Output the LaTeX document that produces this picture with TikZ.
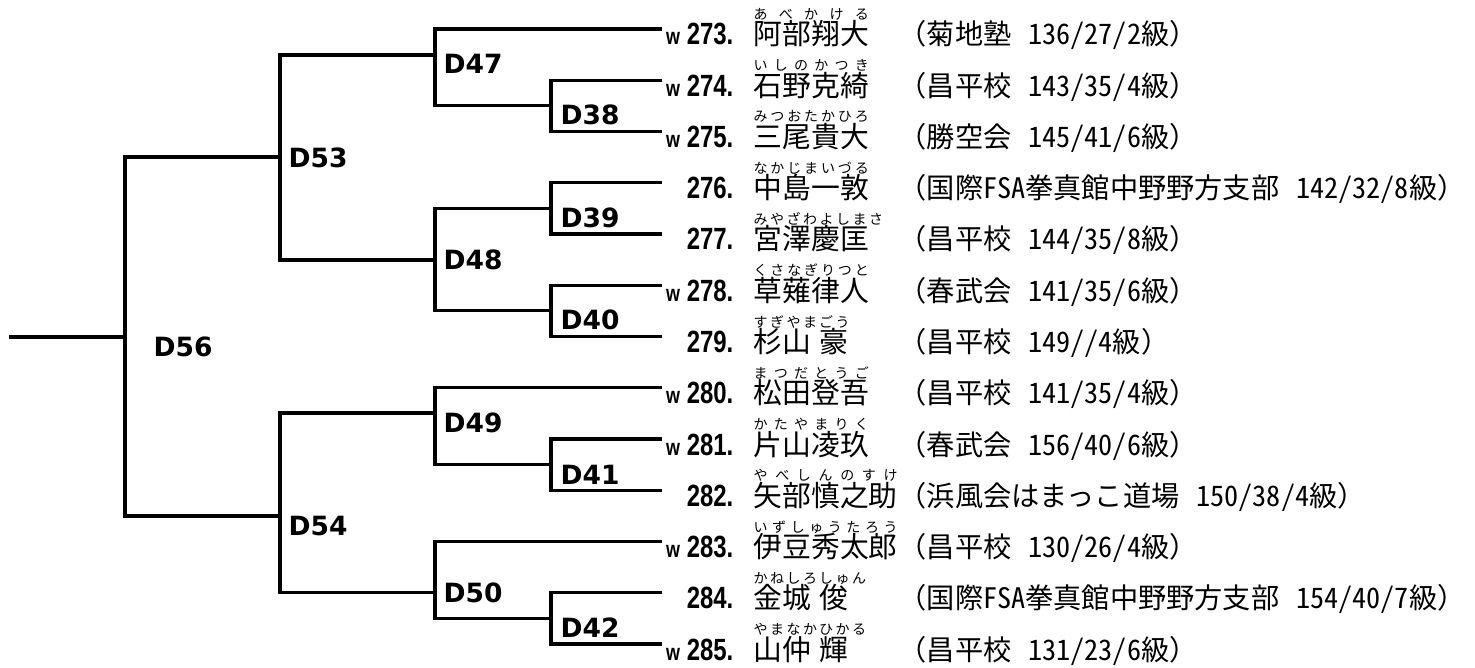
\documentclass[tikz,border=0pt]{standalone}
\usepackage{fontspec}
\newfontfamily\jpfont{Noto Sans CJK JP}
\newfontfamily\hwfont[RawFeature=+hwid]{Noto Sans CJK JP}
\newfontfamily\numfont[FakeStretch=0.78]{Liberation Sans}
\newfontfamily\rndfont{DejaVu Sans}
\newsavebox\furibox
\newcommand\furi[2]{\sbox\furibox{#1}\rlap{\raisebox{25.5pt}{\makebox[\wd\furibox][s]{\fontsize{14}{14}\selectfont\spaceskip=2.5pt plus 1fil\relax#2}}}\usebox\furibox}
\newcommand\hw[1]{{\hwfont#1}}
\begin{document}
\begin{tikzpicture}[x=1pt,y=-1pt,line width=3.2pt,
 rnd/.style={font=\rndfont\bfseries\fontsize{26.5}{28}\selectfont,inner sep=0pt,anchor=base west},
 num/.style={font=\numfont\bfseries\fontsize{30.7}{32}\selectfont,inner sep=0pt,anchor=base east},
 pname/.style={font=\jpfont\fontsize{28.8}{30}\selectfont,inner sep=0pt,anchor=base west},
 club/.style={font=\jpfont\fontsize{28.2}{30}\selectfont,inner sep=0pt,anchor=base west}]
 \useasboundingbox (0,0) rectangle (1475,668);

 \foreach \v in {0,...,12} {
  \coordinate (P\v) at (662,{29+51.25*\v});
 }
 \coordinate (root) at (9,337);
 \coordinate (m38) at (551,105.9);
 \coordinate (m39) at (551,208.4);
 \coordinate (m40) at (551,310.9);
 \coordinate (m41) at (551,464.6);
 \coordinate (m42) at (551,618.4);
 \coordinate (m47) at (435,55);
 \coordinate (m48) at (435,260);
 \coordinate (m49) at (435,413);
 \coordinate (m50) at (435,592.75);
 \coordinate (m53) at (280,157);
 \coordinate (m54) at (280,516);
 \coordinate (m56) at (125,337);

\draw (P1) -| (m38) |- (P2);
\draw (P3) -| (m39) |- (P4);
\draw (P5) -| (m40) |- (P6);
\draw (P8) -| (m41) |- (P9);
\draw (P11) -| (m42) |- (P12);
\draw (P0) -| (m47) |- (m38);
\draw (m39) -| (m48) |- (m40);
\draw (P7) -| (m49) |- (m41);
\draw (P10) -| (m50) |- (m42);
\draw (m47) -| (m53) |- (m48);
\draw (m49) -| (m54) |- (m50);
\draw (m53) -| (m56) |- (m54);
\draw (root) -- (m56);

 \node[rnd] (D38) at (559,125) {D38};
 \node[rnd] (D39) at (559,228) {D39};
 \node[rnd] (D40) at (559,330) {D40};
 \node[rnd] (D41) at (559,484) {D41};
 \node[rnd] (D42) at (559,637) {D42};
 \node[rnd] (D47) at (442,74) {D47};
 \node[rnd] (D48) at (442,270) {D48};
 \node[rnd] (D49) at (442,432) {D49};
 \node[rnd] (D50) at (442,602) {D50};
 \node[rnd] (D53) at (287,168) {D53};
 \node[rnd] (D54) at (287,535) {D54};
 \node[rnd] (D56) at (152,356) {D56};

 \node[num] (n273) at (735,45) {{\fontsize{23}{23}\selectfont w} 273.};
 \node[num] (n274) at (735,96.25) {{\fontsize{23}{23}\selectfont w} 274.};
 \node[num] (n275) at (735,147.5) {{\fontsize{23}{23}\selectfont w} 275.};
 \node[num] (n276) at (735,198.75) {276.};
 \node[num] (n277) at (735,250) {277.};
 \node[num] (n278) at (735,301.25) {{\fontsize{23}{23}\selectfont w} 278.};
 \node[num] (n279) at (735,352.5) {279.};
 \node[num] (n280) at (735,403.75) {{\fontsize{23}{23}\selectfont w} 280.};
 \node[num] (n281) at (735,455) {{\fontsize{23}{23}\selectfont w} 281.};
 \node[num] (n282) at (735,506.25) {282.};
 \node[num] (n283) at (735,557.5) {{\fontsize{23}{23}\selectfont w} 283.};
 \node[num] (n284) at (735,608.75) {284.};
 \node[num] (n285) at (735,660) {{\fontsize{23}{23}\selectfont w} 285.};

 \node[pname] (p273) at (752,45) {\furi{阿部翔大}{あ べ か け る}};
 \node[pname] (p274) at (752,96.25) {\furi{石野克綺}{い し の か つ き}};
 \node[pname] (p275) at (752,147.5) {\furi{三尾貴大}{み つ お た か ひ ろ}};
 \node[pname] (p276) at (752,198.75) {\furi{中島一敦}{な か じ ま い づ る}};
 \node[pname] (p277) at (752,250) {\furi{宮澤慶匡}{み や ざ わ よ し ま さ}};
 \node[pname] (p278) at (752,301.25) {\furi{草薙律人}{く さ な ぎ り つ と}};
 \node[pname] (p279) at (752,352.5) {\furi{杉山}{す ぎ や ま}\hspace{8pt}\furi{豪}{ご う}};
 \node[pname] (p280) at (752,403.75) {\furi{松田登吾}{ま つ だ と う ご}};
 \node[pname] (p281) at (752,455) {\furi{片山凌玖}{か た や ま り く}};
 \node[pname] (p282) at (752,506.25) {\furi{矢部慎之助}{や べ し ん の す け}};
 \node[pname] (p283) at (752,557.5) {\furi{伊豆秀太郎}{い ず し ゅ う た ろ う}};
 \node[pname] (p284) at (752,608.75) {\furi{金城}{か ね し ろ}\hspace{8pt}\furi{俊}{し ゅ ん}};
 \node[pname] (p285) at (752,660) {\furi{山仲}{や ま な か}\hspace{8pt}\furi{輝}{ひ か る}};

 \node[club] (c273) at (897,45) {（菊地塾\hspace{0.6em}\hw{136/27/2}級）};
 \node[club] (c274) at (897,96.25) {（昌平校\hspace{0.6em}\hw{143/35/4}級）};
 \node[club] (c275) at (897,147.5) {（勝空会\hspace{0.6em}\hw{145/41/6}級）};
 \node[club] (c276) at (897,198.75) {（国際\hw{FSA}拳真館中野野方支部\hspace{0.6em}\hw{142/32/8}級）};
 \node[club] (c277) at (897,250) {（昌平校\hspace{0.6em}\hw{144/35/8}級）};
 \node[club] (c278) at (897,301.25) {（春武会\hspace{0.6em}\hw{141/35/6}級）};
 \node[club] (c279) at (897,352.5) {（昌平校\hspace{0.6em}\hw{149//4}級）};
 \node[club] (c280) at (897,403.75) {（昌平校\hspace{0.6em}\hw{141/35/4}級）};
 \node[club] (c281) at (897,455) {（春武会\hspace{0.6em}\hw{156/40/6}級）};
 \node[club] (c282) at (897,506.25) {（浜風会はまっこ道場\hspace{0.6em}\hw{150/38/4}級）};
 \node[club] (c283) at (897,557.5) {（昌平校\hspace{0.6em}\hw{130/26/4}級）};
 \node[club] (c284) at (897,608.75) {（国際\hw{FSA}拳真館中野野方支部\hspace{0.6em}\hw{154/40/7}級）};
 \node[club] (c285) at (897,660) {（昌平校\hspace{0.6em}\hw{131/23/6}級）};
\end{tikzpicture}
\end{document}
